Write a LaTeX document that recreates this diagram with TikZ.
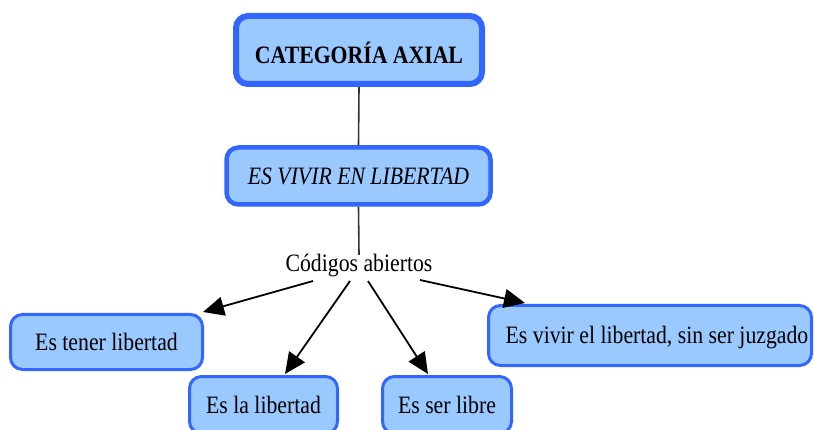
\documentclass[tikz,border=0pt]{standalone}
\usepackage{fontspec}
\setmainfont{Liberation Serif}[FakeStretch=0.87]
\usetikzlibrary{arrows.meta,calc}
\definecolor{boxfill}{HTML}{99C9FF}
\definecolor{boxline}{HTML}{3366FF}
\definecolor{linegray}{HTML}{333333}
\begin{document}
\begin{tikzpicture}[x=1pt,y=-1pt,
  conbox/.style={draw=boxline,fill=boxfill,rounded corners=12pt,inner sep=0pt,
    font=\fontsize{25}{30}\selectfont,text height=20pt,text depth=3.4pt,align=center},
  leaf/.style={conbox,line width=3pt},
  link/.style={draw=linegray,line width=1.6pt},
  arr/.style={draw=black,line width=1.8pt,-{Triangle[length=21pt,width=19pt]}}]
\useasboundingbox (0,0) rectangle (814,430);
\node[conbox,line width=6pt,minimum width=246pt,minimum height=68pt,text height=30pt] (top) at (359,50) {\bfseries CATEGORÍA AXIAL};
\node[conbox,line width=4.5pt,minimum width=264pt,minimum height=57pt] (mid) at (358.5,176) {\itshape ES VIVIR EN LIBERTAD};
\node[font=\fontsize{25}{30}\selectfont,inner sep=0pt,text height=17pt,text depth=5pt] (cod) at (359,266) {Códigos abiertos};
\node[leaf,minimum width=192pt,minimum height=55pt] (t1) at (106.5,342) {Es tener libertad};
\node[leaf,minimum width=148pt,minimum height=57pt] (t2) at (263.5,405) {Es la libertad};
\node[leaf,minimum width=129pt,minimum height=57pt] (t3) at (447,405) {Es ser libre};
\node[leaf,minimum width=323pt,minimum height=60pt] (t4) at (650,335.5) {\hspace*{14pt}Es vivir el libertad, sin ser juzgado};
\draw[link] (top.south) -- (mid.north);
\draw[link] (mid.south) -- (cod.north);
\draw[arr] ($(cod.center)+(-46,15)$) -- ($(t1.north east)+(-1,-1)$);
\draw[arr] ($(cod.center)+(-9,15)$) -- ($(t2.north)+(21.5,-1)$);
\draw[arr] ($(cod.center)+(9,15)$) -- ($(t3.north)+(-19,-1)$);
\draw[arr] ($(cod.center)+(61,14)$) -- ($(t4.north west)+(38,-1)$);
\end{tikzpicture}
\end{document}
